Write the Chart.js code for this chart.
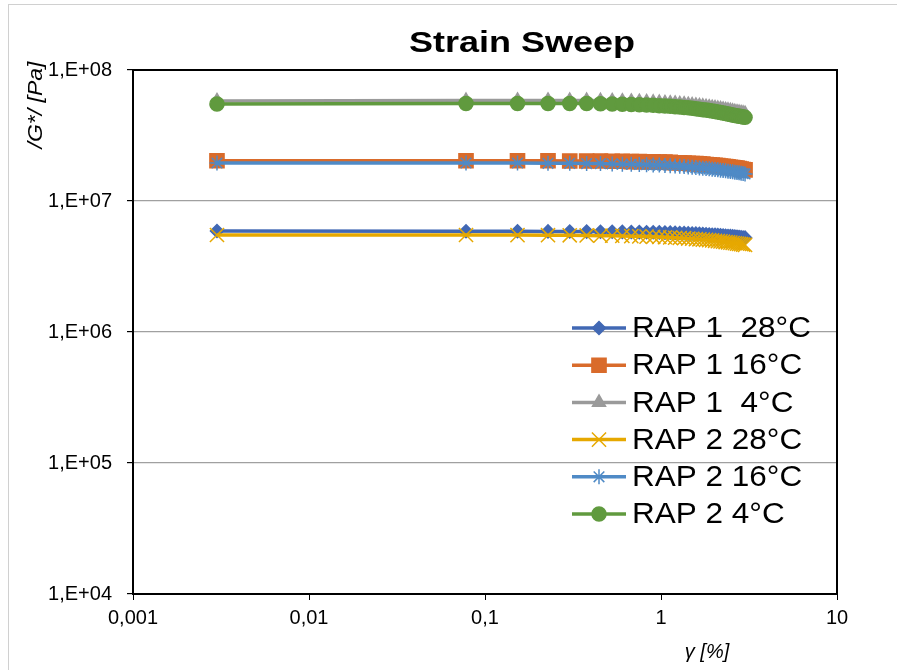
<!DOCTYPE html>
<html>
<head>
<meta charset="utf-8">
<title>Strain Sweep</title>
<script src="https://cdn.jsdelivr.net/npm/chart.js@4.4.0/dist/chart.umd.min.js"></script>
<style>
  html, body { margin: 0; padding: 0; background: #fff; }
  canvas { display: block; }
</style>
</head>
<body>
<canvas id="sweepChart" width="897" height="670"></canvas>
<script>
// --- DATA ---
const strain = [0.003, 0.078, 0.153, 0.228, 0.303, 0.378, 0.453, 0.528, 0.603, 0.678,
  0.753, 0.828, 0.903, 0.978, 1.053, 1.128, 1.203, 1.278, 1.353, 1.428,
  1.503, 1.578, 1.653, 1.728, 1.803, 1.878, 1.953, 2.028, 2.103, 2.178,
  2.253, 2.328, 2.403, 2.478, 2.553, 2.628, 2.703, 2.778, 2.853, 2.928, 3.003];

// |G*| in Pa
const rap1_28 = [5.90e6, 5.88e6, 5.87e6, 5.86e6, 5.85e6, 5.84e6, 5.83e6, 5.82e6, 5.81e6, 5.80e6,
  5.79e6, 5.78e6, 5.77e6, 5.76e6, 5.74e6, 5.73e6, 5.71e6, 5.70e6, 5.68e6, 5.66e6,
  5.65e6, 5.63e6, 5.61e6, 5.59e6, 5.57e6, 5.55e6, 5.53e6, 5.51e6, 5.49e6, 5.47e6,
  5.45e6, 5.43e6, 5.41e6, 5.39e6, 5.37e6, 5.35e6, 5.33e6, 5.31e6, 5.29e6, 5.27e6, 5.25e6];
const rap1_16 = [2.03e7, 2.03e7, 2.03e7, 2.03e7, 2.02e7, 2.02e7, 2.02e7, 2.01e7, 2.01e7, 2.00e7,
  2.00e7, 1.99e7, 1.99e7, 1.98e7, 1.98e7, 1.97e7, 1.96e7, 1.96e7, 1.95e7, 1.94e7,
  1.93e7, 1.93e7, 1.92e7, 1.91e7, 1.90e7, 1.89e7, 1.88e7, 1.87e7, 1.86e7, 1.85e7,
  1.84e7, 1.83e7, 1.82e7, 1.81e7, 1.80e7, 1.79e7, 1.78e7, 1.77e7, 1.75e7, 1.74e7, 1.73e7];
const rap1_4 = [5.80e7, 5.85e7, 5.86e7, 5.86e7, 5.85e7, 5.84e7, 5.82e7, 5.80e7, 5.78e7, 5.76e7,
  5.73e7, 5.70e7, 5.67e7, 5.64e7, 5.61e7, 5.58e7, 5.55e7, 5.51e7, 5.48e7, 5.44e7,
  5.40e7, 5.36e7, 5.32e7, 5.28e7, 5.24e7, 5.20e7, 5.16e7, 5.12e7, 5.08e7, 5.04e7,
  5.00e7, 4.96e7, 4.92e7, 4.88e7, 4.84e7, 4.80e7, 4.76e7, 4.73e7, 4.70e7, 4.67e7, 4.64e7];
const rap2_28 = [5.50e6, 5.50e6, 5.49e6, 5.48e6, 5.47e6, 5.46e6, 5.44e6, 5.43e6, 5.41e6, 5.39e6,
  5.37e6, 5.35e6, 5.33e6, 5.31e6, 5.29e6, 5.27e6, 5.24e6, 5.22e6, 5.20e6, 5.17e6,
  5.15e6, 5.12e6, 5.10e6, 5.07e6, 5.05e6, 5.02e6, 5.00e6, 4.97e6, 4.94e6, 4.92e6,
  4.89e6, 4.86e6, 4.84e6, 4.81e6, 4.78e6, 4.76e6, 4.73e6, 4.70e6, 4.68e6, 4.65e6, 4.62e6];
const rap2_16 = [1.95e7, 1.95e7, 1.95e7, 1.94e7, 1.94e7, 1.93e7, 1.93e7, 1.92e7, 1.91e7, 1.91e7,
  1.90e7, 1.89e7, 1.88e7, 1.88e7, 1.87e7, 1.86e7, 1.85e7, 1.84e7, 1.83e7, 1.82e7,
  1.81e7, 1.80e7, 1.79e7, 1.78e7, 1.77e7, 1.76e7, 1.75e7, 1.74e7, 1.73e7, 1.72e7,
  1.71e7, 1.70e7, 1.69e7, 1.68e7, 1.67e7, 1.66e7, 1.65e7, 1.64e7, 1.63e7, 1.62e7, 1.61e7];
const rap2_4 = [5.50e7, 5.55e7, 5.56e7, 5.56e7, 5.55e7, 5.54e7, 5.52e7, 5.50e7, 5.48e7, 5.46e7,
  5.43e7, 5.40e7, 5.37e7, 5.34e7, 5.31e7, 5.28e7, 5.25e7, 5.21e7, 5.18e7, 5.14e7,
  5.10e7, 5.06e7, 5.02e7, 4.98e7, 4.94e7, 4.90e7, 4.86e7, 4.82e7, 4.78e7, 4.74e7,
  4.70e7, 4.66e7, 4.62e7, 4.58e7, 4.54e7, 4.50e7, 4.47e7, 4.44e7, 4.41e7, 4.38e7, 4.35e7];

const seriesLabels = ['RAP 1  28°C', 'RAP 1 16°C', 'RAP 1  4°C', 'RAP 2 28°C', 'RAP 2 16°C', 'RAP 2 4°C'];
const seriesValues = [rap1_28, rap1_16, rap1_4, rap2_28, rap2_16, rap2_4];

const xTickValues = [0.001, 0.01, 0.1, 1, 10];
const xTickLabels = ['0,001', '0,01', '0,1', '1', '10'];
const yTickValues = [1e4, 1e5, 1e6, 1e7, 1e8];
const yTickLabels = ['1,E+04', '1,E+05', '1,E+06', '1,E+07', '1,E+08'];

// --- STYLE ---
const FONT = "'Liberation Sans', Arial, sans-serif";
const seriesColors = ['#4168b4', '#d96b2b', '#9a9a9a', '#e6a800', '#4f8ac6', '#609a3e'];
const seriesMarkers = [
  { style: 'rectRot', radius: 6.5 },
  { style: 'rect', radius: 10 },
  { style: 'triangle', radius: 7.5 },
  { style: 'crossRot', radius: 10 },
  { style: 'star', radius: 7.5 },
  { style: 'circle', radius: 7 }
];

const datasets = seriesLabels.map((label, i) => ({
  label: label,
  data: strain.map((x, k) => ({ x: x, y: seriesValues[i][k] })),
  borderColor: seriesColors[i],
  backgroundColor: seriesColors[i],
  borderWidth: 3.5,
  pointStyle: seriesMarkers[i].style,
  pointRadius: seriesMarkers[i].radius,
  pointBorderWidth: 1.5,
  pointBorderColor: seriesColors[i],
  pointBackgroundColor: seriesColors[i],
  tension: 0,
  order: seriesLabels.length - 1 - i   // later series on top, like Excel
}));

// --- DECORATION: frame, titles, legend inside the plot ---
const decorPlugin = {
  id: 'decor',
  beforeDraw(chart) {
    const ctx = chart.ctx;
    ctx.save();
    ctx.fillStyle = '#fff';
    ctx.fillRect(0, 0, chart.width, chart.height);
    ctx.strokeStyle = '#d0d0d0';
    ctx.lineWidth = 1;
    ctx.strokeRect(8.5, 4.5, chart.width, chart.height);
    ctx.restore();
  },
  afterDatasetsDraw(chart) {
    const ctx = chart.ctx;
    ctx.save();
    // legend
    const x0 = 572, x1 = 626, tx = 632, y0 = 328, dy = 37.2;
    ctx.textBaseline = 'middle';
    chart.data.datasets.forEach((ds, i) => {
      const y = y0 + i * dy;
      ctx.strokeStyle = ds.borderColor;
      ctx.fillStyle = ds.borderColor;
      ctx.lineWidth = 3.5;
      ctx.beginPath();
      ctx.moveTo(x0, y);
      ctx.lineTo(x1, y);
      ctx.stroke();
      ctx.lineWidth = 1.5;
      Chart.helpers.drawPoint(ctx, {
        pointStyle: ds.pointStyle, radius: ds.pointRadius, rotation: 0, borderWidth: 1.5
      }, (x0 + x1) / 2, y);
      ctx.save();
      ctx.translate(tx, y + 1);
      ctx.scale(1.05, 1);
      ctx.font = '30px ' + FONT;
      ctx.fillStyle = '#000';
      ctx.fillText(ds.label, 0, 0);
      ctx.restore();
    });
    ctx.restore();
  },
  afterDraw(chart) {
    const ctx = chart.ctx;
    const a = chart.chartArea;
    ctx.save();
    // plot frame
    ctx.strokeStyle = '#000';
    ctx.lineWidth = 2;
    ctx.strokeRect(a.left, a.top, a.right - a.left, a.bottom - a.top);

    // chart title
    ctx.fillStyle = '#000';
    ctx.textAlign = 'center';
    ctx.textBaseline = 'alphabetic';
    ctx.save();
    ctx.translate(522, 52);
    ctx.scale(1.2, 1);
    ctx.font = 'bold 30px ' + FONT;
    ctx.fillText('Strain Sweep', 0, 0);
    ctx.restore();

    // axis titles
    ctx.font = 'italic 20px ' + FONT;
    ctx.textBaseline = 'middle';
    ctx.fillText('γ [%]', 707, 652);
    ctx.save();
    ctx.translate(36, 105);
    ctx.rotate(-Math.PI / 2);
    ctx.scale(1.15, 1);
    ctx.fillText('/G*/ [Pa]', 0, 0);
    ctx.restore();
    ctx.restore();
  }
};

new Chart(document.getElementById('sweepChart'), {
  type: 'line',
  data: { datasets: datasets },
  options: {
    responsive: false,
    animation: false,
    devicePixelRatio: 1,
    layout: { padding: { top: 70, right: 60, left: 0, bottom: 0 } },
    plugins: {
      legend: { display: false },
      title: { display: false },
      tooltip: { enabled: false }
    },
    scales: {
      x: {
        type: 'logarithmic',
        min: 0.001,
        max: 10,
        afterBuildTicks: s => { s.ticks = xTickValues.map(v => ({ value: v })); },
        afterFit: s => { s.height = 76; },
        ticks: {
          callback: (v) => xTickLabels[xTickValues.indexOf(v)],
          font: { family: FONT, size: 20 },
          color: '#000',
          padding: 6,
          maxRotation: 0,
          autoSkip: false
        },
        grid: { drawOnChartArea: false, drawTicks: true, tickLength: 6, tickColor: '#000', color: '#000' },
        border: { display: true, color: '#000', width: 2 }
      },
      y: {
        type: 'logarithmic',
        min: 1e4,
        max: 1e8,
        afterBuildTicks: s => { s.ticks = yTickValues.map(v => ({ value: v })); },
        afterFit: s => { s.width = 133; },
        ticks: {
          callback: (v) => yTickLabels[yTickValues.indexOf(v)],
          font: { family: FONT, size: 20 },
          color: '#000',
          padding: 15
        },
        grid: { color: '#a0a0a0', lineWidth: 1.2, tickLength: 6, tickColor: '#000' },
        border: { display: true, color: '#000', width: 2 }
      }
    }
  },
  plugins: [decorPlugin]
});
</script>
</body>
</html>
